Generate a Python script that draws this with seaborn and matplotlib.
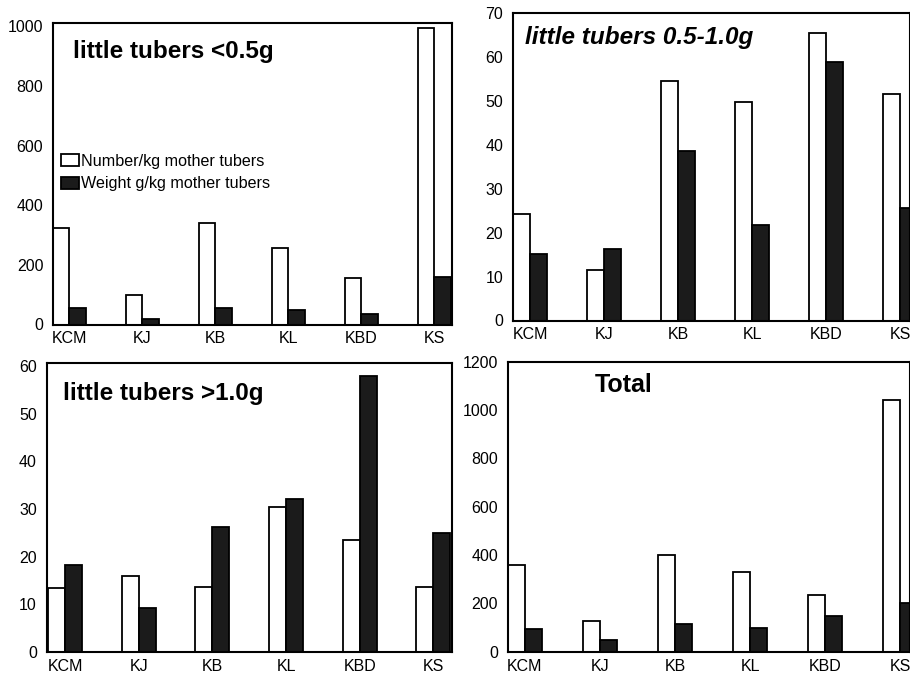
import pandas as pd
import seaborn as sns
import matplotlib.pyplot as plt
from matplotlib.patches import Patch

# Clones and the two measured quantities
clones = ["KCM", "KJ", "KB", "KL", "KBD", "KS"]
series = ["Number/kg mother tubers", "Weight g/kg mother tubers"]

# little tubers < 0.5 g
small_number = [325, 100, 340, 258, 156, 995]
small_weight = [55, 18, 57, 48, 35, 160]
# little tubers 0.5-1.0 g
medium_number = [24.2, 11.4, 54.6, 49.8, 65.6, 51.7]
medium_weight = [15.2, 16.3, 38.6, 21.7, 58.8, 25.7]
# little tubers > 1.0 g
large_number = [13.3, 16.0, 13.5, 30.5, 23.5, 13.5]
large_weight = [18.2, 9.2, 26.1, 32.0, 58.0, 24.9]
# total
total_number = [359, 127, 400, 330, 235, 1040]
total_weight = [93, 47, 116, 98, 148, 202]

panel_titles = ["little tubers <0.5g", "little tubers 0.5-1.0g",
                "little tubers >1.0g", "Total"]
panel_yticks = [[0, 200, 400, 600, 800, 1000],
                list(range(0, 71, 10)),
                list(range(0, 61, 10)),
                [0, 200, 400, 600, 800, 1000, 1200]]

sns.set_theme(style="white")
plt.rcParams["font.family"] = ["Liberation Sans", "DejaVu Sans"]
plt.rcParams["text.color"] = "black"

fig = plt.figure(figsize=(9.1, 6.76), dpi=100)

def frac(x0, x1, ytop, ybot):
    W, H = 910.0, 676.0
    return [x0 / W, 1 - ybot / H, (x1 - x0) / W, (ybot - ytop) / H]

panels = [
    dict(rect=frac(53, 452, 22.7, 324.5), num=small_number, wt=small_weight,
         ylim=(0, 1012), xlim=(-0.226, 5.24), title_xy=(0.05, 0.905),
         italic=False, size=17.5),
    dict(rect=frac(513, 910, 13.3, 320.5), num=medium_number, wt=medium_weight,
         ylim=(0, 70), xlim=(-0.23, 5.135), title_xy=(0.03, 0.92),
         italic=True, size=17.5),
    dict(rect=frac(46.7, 451.7, 363.3, 651.7), num=large_number, wt=large_weight,
         ylim=(0, 60.6), xlim=(-0.25, 5.25), title_xy=(0.04, 0.897),
         italic=False, size=17.5),
    dict(rect=frac(507.7, 910, 361.7, 651.7), num=total_number, wt=total_weight,
         ylim=(0, 1200), xlim=(-0.23, 5.13), title_xy=(0.217, 0.92),
         italic=False, size=18),
]

bar_colors = ["white", "#1b1b1b"]

for i, p in enumerate(panels):
    ax = fig.add_axes(p["rect"])
    df = pd.DataFrame({
        "clone": clones * 2,
        "series": [series[0]] * len(clones) + [series[1]] * len(clones),
        "value": list(p["num"]) + list(p["wt"]),
    })
    sns.barplot(data=df, x="clone", y="value", hue="series", order=clones,
                hue_order=series, palette=bar_colors, saturation=1,
                width=0.46, gap=0, edgecolor="black", linewidth=1.3,
                legend=False, ax=ax)
    ax.set_xlim(*p["xlim"])
    ax.set_ylim(*p["ylim"])
    ax.set_yticks(panel_yticks[i])
    ax.set_xlabel("")
    ax.set_ylabel("")
    ax.tick_params(axis="both", length=0, labelsize=11.5, colors="black")
    ax.tick_params(axis="x", pad=5)
    ax.tick_params(axis="y", pad=7)
    for s in ax.spines.values():
        s.set_visible(True)
        s.set_color("black")
        s.set_linewidth(1.5)
    ax.text(p["title_xy"][0], p["title_xy"][1], panel_titles[i],
            transform=ax.transAxes, ha="left", va="center", color="black",
            fontsize=p["size"], fontweight="bold",
            fontstyle="italic" if p["italic"] else "normal")
    if i == 0:
        handles = [Patch(facecolor=c, edgecolor="black", linewidth=1.3)
                   for c in bar_colors]
        leg = ax.legend(handles, series, loc="upper left",
                        bbox_to_anchor=(0.02, 0.565), frameon=False,
                        fontsize=11.6, handlelength=1.1, handleheight=0.75,
                        handletextpad=0.15, labelspacing=0.45,
                        borderpad=0, borderaxespad=0)
        for t in leg.get_texts():
            t.set_color("black")

fig.savefig("out.png", dpi=100, facecolor="white")
